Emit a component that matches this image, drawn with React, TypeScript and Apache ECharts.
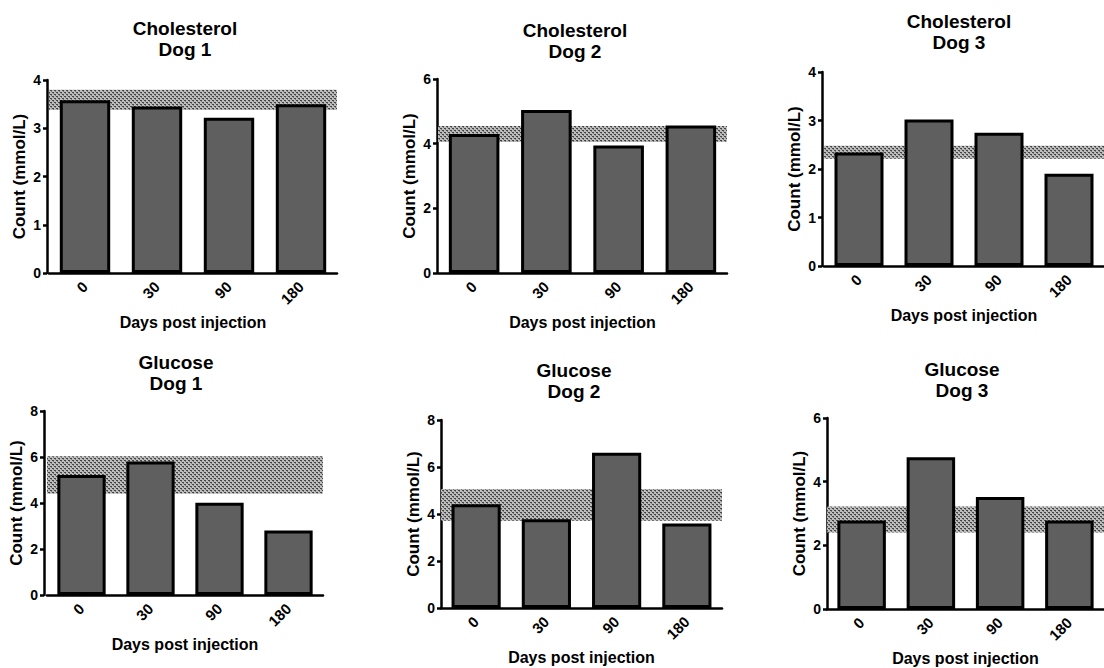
import React, { useEffect, useRef } from "react";
import * as echarts from "echarts";

// ---- data ----
const categories = ["0", "30", "90", "180"];
const analytes = ["Cholesterol", "Cholesterol", "Cholesterol", "Glucose", "Glucose", "Glucose"];
const dogs = ["Dog 1", "Dog 2", "Dog 3", "Dog 1", "Dog 2", "Dog 3"];

const cholDog1 = [3.58, 3.45, 3.22, 3.5];
const cholDog2 = [4.3, 5.04, 3.94, 4.56];
const cholDog3 = [2.34, 3.02, 2.75, 1.9];
const gluDog1 = [5.22, 5.8, 4.01, 2.8];
const gluDog2 = [4.42, 3.78, 6.61, 3.6];
const gluDog3 = [2.78, 4.77, 3.52, 2.78];

const cholDog1Ref = [3.38, 3.8];
const cholDog2Ref = [4.05, 4.55];
const cholDog3Ref = [2.21, 2.48];
const gluDog1Ref = [4.4, 6.03];
const gluDog2Ref = [3.71, 5.06];
const gluDog3Ref = [2.4, 3.22];

const yMax = [4, 6, 4, 8, 8, 6];
const yStep = [1, 2, 1, 2, 2, 2];

const yTitle = "Count (mmol/L)";
const xTitle = "Days post injection";

// ---- layout (pixels) ----
const gridLeft = [49, 438, 824, 47, 441, 827];
const gridWidth = [288, 289, 288, 276, 281, 285];
const gridTop = [80, 79, 72, 411, 420, 418];
const gridHeight = [193, 194, 194, 184, 188, 191];
const yOffset = [2, 1, 2, 3, 0, 0];
const titleX = [185, 575, 959, 176, 574, 962];
const titleY = [39, 41, 32, 373, 381, 380];

const FONT = "'Liberation Sans', Arial, Helvetica, sans-serif";

function makePattern(): HTMLCanvasElement {
  const c = document.createElement("canvas");
  c.width = 4;
  c.height = 4;
  const ctx = c.getContext("2d")!;
  ctx.fillStyle = "#bdbdbd";
  ctx.fillRect(0, 0, 4, 4);
  ctx.fillStyle = "#444444";
  ctx.fillRect(0, 0, 2, 1);
  ctx.fillRect(2, 2, 2, 1);
  ctx.fillStyle = "#7a7a7a";
  ctx.fillRect(1, 1, 1, 1);
  ctx.fillRect(3, 3, 1, 1);
  return c;
}

export default function App() {
  const ref = useRef<HTMLDivElement>(null);

  useEffect(() => {
    if (!ref.current) return;
    const chart = echarts.init(ref.current, undefined, { renderer: "svg" });
    const values = [cholDog1, cholDog2, cholDog3, gluDog1, gluDog2, gluDog3];
    const ranges = [cholDog1Ref, cholDog2Ref, cholDog3Ref, gluDog1Ref, gluDog2Ref, gluDog3Ref];
    const pattern = makePattern();

    const grids = values.map((_, i) => ({
      left: gridLeft[i],
      top: gridTop[i],
      width: gridWidth[i],
      height: gridHeight[i],
      containLabel: false,
    }));

    const xAxes = values.map((_, i) => ({
      type: "category",
      gridIndex: i,
      data: categories,
      boundaryGap: true,
      axisLine: { lineStyle: { color: "#000", width: 2.5 } },
      axisTick: { alignWithLabel: true, length: 5, lineStyle: { color: "#000", width: 2.5 } },
      axisLabel: {
        rotate: 45,
        margin: 11,
        color: "#000",
        fontWeight: "bold",
        fontSize: 15,
        fontFamily: FONT,
      },
      name: xTitle,
      nameLocation: "middle",
      nameGap: 41,
      nameTextStyle: { color: "#000", fontWeight: "bold", fontSize: 16, fontFamily: FONT },
    }));

    const yAxes = values.map((_, i) => ({
      type: "value",
      gridIndex: i,
      min: 0,
      max: yMax[i],
      interval: yStep[i],
      offset: yOffset[i],
      splitLine: { show: false },
      axisLine: { show: true, lineStyle: { color: "#000", width: 2.5 } },
      axisTick: { show: true, length: 4, lineStyle: { color: "#000", width: 2.5 } },
      axisLabel: {
        margin: 6,
        color: "#000",
        fontWeight: "bold",
        fontSize: 14,
        fontFamily: FONT,
      },
      name: yTitle,
      nameLocation: "middle",
      nameGap: 19,
      nameTextStyle: { color: "#000", fontWeight: "bold", fontSize: 17, fontFamily: FONT },
    }));

    const series = values.map((v, i) => ({
      type: "bar",
      xAxisIndex: i,
      yAxisIndex: i,
      data: v,
      barWidth: "70%",
      z: 3,
      itemStyle: { color: "#5f5f5f", borderColor: "#000", borderWidth: 3 },
      markArea: {
        silent: true,
        z: 1,
        itemStyle: { color: { image: pattern, repeat: "repeat" } as any },
        data: [[{ yAxis: ranges[i][0] }, { yAxis: ranges[i][1] }]],
      },
    }));

    const graphics = values.map((_, i) => ({
      type: "text",
      x: titleX[i],
      y: titleY[i],
      style: {
        text: analytes[i] + "\n" + dogs[i],
        textAlign: "center",
        textVerticalAlign: "middle",
        font: `bold 19px ${FONT}`,
        lineHeight: 21,
        fill: "#000",
      },
    }));

    chart.setOption({
      animation: false,
      backgroundColor: "#fff",
      grid: grids,
      xAxis: xAxes,
      yAxis: yAxes,
      series,
      graphic: graphics,
    } as any);

    return () => chart.dispose();
  }, []);

  return (
    <div
      ref={ref}
      style={{ position: "absolute", left: 0, top: 0, width: 1104, height: 668, overflow: "hidden" }}
    />
  );
}
